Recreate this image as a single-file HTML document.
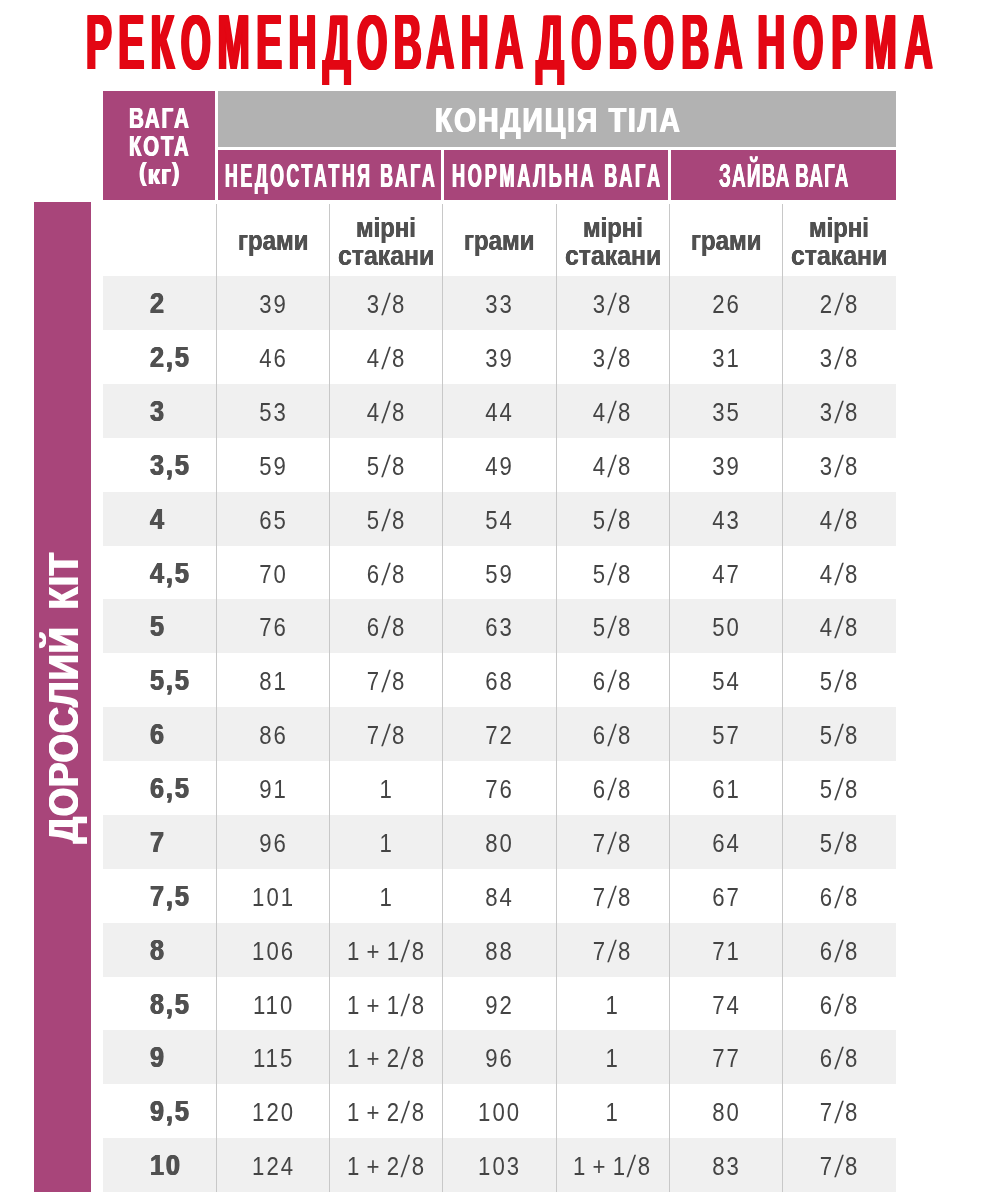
<!DOCTYPE html>
<html lang="uk"><head><meta charset="utf-8"><title>Рекомендована добова норма</title>
<style>

html,body{margin:0;padding:0;background:#fff;}
body{width:1000px;height:1200px;position:relative;overflow:hidden;font-family:"Liberation Sans",sans-serif;}
.b{position:absolute;}
.t{position:absolute;white-space:nowrap;line-height:1;transform-origin:0 0;font-weight:700;margin:0;}
.title{color:#e30613;}
.hw,.hk,.hs{color:#fff;}
.sh{color:#505050;}
.purple{background:#a8457a;}
.gray{background:#b2b2b2;}
.stripe{background:#f0f0f0;left:103px;width:793px;}
.vl{background:#c8c8c8;width:1px;top:204px;height:988px;}
.row{position:absolute;left:0;width:1000px;height:53.87px;}
.w{position:absolute;left:149.5px;top:0;white-space:nowrap;line-height:1;font-weight:700;font-size:29.3px;color:#505050;letter-spacing:2.2px;transform:scaleX(0.86);transform-origin:0 0;text-shadow:.7px 0 0 #505050,-.7px 0 0 #505050;}
.d i{font-style:normal;display:inline-block;transform:translateY(.9px) scaleY(1.16) skewX(-12deg);margin:0 1.55px;}
.pa{font-size:.9em;position:relative;top:-2.2px;}
.d{position:absolute;top:0;width:113.2px;text-align:center;white-space:nowrap;line-height:1;font-size:26.4px;color:#444;letter-spacing:2.4px;word-spacing:-3.5px;transform:scaleX(0.84);transform-origin:50% 0;}
.vt{position:absolute;white-space:nowrap;line-height:1;font-weight:700;color:#fff;transform-origin:0 0;}

</style></head><body>
<div class="b purple" style="left:103px;top:91px;width:112px;height:109px"></div>
<div class="b gray" style="left:218px;top:91px;width:678px;height:56px"></div>
<div class="b purple" style="left:218px;top:150px;width:223px;height:50px"></div>
<div class="b purple" style="left:444px;top:150px;width:224px;height:50px"></div>
<div class="b purple" style="left:671px;top:150px;width:225px;height:50px"></div>
<div class="b purple" style="left:34px;top:202px;width:57px;height:990px"></div>
<div class="b stripe" style="top:276px;height:54px"></div>
<div class="b stripe" style="top:384px;height:54px"></div>
<div class="b stripe" style="top:492px;height:54px"></div>
<div class="b stripe" style="top:599px;height:54px"></div>
<div class="b stripe" style="top:707px;height:54px"></div>
<div class="b stripe" style="top:815px;height:54px"></div>
<div class="b stripe" style="top:923px;height:54px"></div>
<div class="b stripe" style="top:1030px;height:54px"></div>
<div class="b stripe" style="top:1138px;height:54px"></div>
<div class="b vl" style="left:216px"></div>
<div class="b vl" style="left:329px"></div>
<div class="b vl" style="left:442px"></div>
<div class="b vl" style="left:556px"></div>
<div class="b vl" style="left:669px"></div>
<div class="b vl" style="left:782px"></div>
<h1 class="t title" style="left:85.84px;top:3.17px;font-size:78.6px;transform:scaleX(0.4924);text-shadow:1.32px 0 0 currentColor,-1.32px 0 0 currentColor,2.64px 0 0 currentColor,-2.64px 0 0 currentColor;letter-spacing:14px;word-spacing:-23.5px;"><span style="letter-spacing:13.25px">РЕКОМЕНДОВАНА</span> <span style="letter-spacing:14.9px;margin-left:1px">ДОБОВА</span> <span style="letter-spacing:16.2px;margin-left:2.6px">НОРМА</span></h1>
<div class="t hw" style="left:129.22px;top:103.19px;font-size:29.9px;transform:scaleX(0.6893);text-shadow:0.73px 0 0 currentColor,-0.73px 0 0 currentColor;letter-spacing:2.8px;">ВАГА</div>
<div class="t hw" style="left:129.24px;top:130.89px;font-size:29.9px;transform:scaleX(0.6802);text-shadow:0.74px 0 0 currentColor,-0.74px 0 0 currentColor;letter-spacing:2.8px;">КОТА</div>
<div class="t hw" style="left:139.22px;top:159.54px;font-size:28.3px;transform:scaleX(0.8842);text-shadow:0.57px 0 0 currentColor,-0.57px 0 0 currentColor;letter-spacing:1.0px;"><span class="pa">(</span>кг<span class="pa">)</span></div>
<div class="t hk" style="left:434.79px;top:102.65px;font-size:34.2px;transform:scaleX(0.8297);text-shadow:0.84px 0 0 currentColor,-0.84px 0 0 currentColor;letter-spacing:2.2px;">КОНДИЦІЯ ТІЛА</div>
<div class="t hs" style="left:224.81px;top:160.46px;font-size:32.3px;transform:scaleX(0.5447);text-shadow:0.92px 0 0 currentColor,-0.92px 0 0 currentColor;letter-spacing:5px;">НЕДОСТАТНЯ ВАГА</div>
<div class="t hs" style="left:452.38px;top:160.46px;font-size:32.3px;transform:scaleX(0.5604);text-shadow:0.89px 0 0 currentColor,-0.89px 0 0 currentColor;letter-spacing:5px;">НОРМАЛЬНА ВАГА</div>
<div class="t hs" style="left:718.70px;top:160.46px;font-size:32.3px;transform:scaleX(0.5870);text-shadow:0.51px 0 0 currentColor,-0.51px 0 0 currentColor;letter-spacing:2px;word-spacing:-3px;">ЗАЙВА ВАГА</div>
<div class="t sh" style="left:237.93px;top:227.02px;font-size:27.5px;transform:scaleX(0.8718);text-shadow:0.34px 0 0 currentColor,-0.34px 0 0 currentColor;">грами</div>
<div class="t sh" style="left:356.23px;top:214.32px;font-size:27.5px;transform:scaleX(0.8676);text-shadow:0.35px 0 0 currentColor,-0.35px 0 0 currentColor;">мірні</div>
<div class="t sh" style="left:338.20px;top:241.92px;font-size:27.5px;transform:scaleX(0.9024);text-shadow:0.33px 0 0 currentColor,-0.33px 0 0 currentColor;">стакани</div>
<div class="t sh" style="left:464.43px;top:227.02px;font-size:27.5px;transform:scaleX(0.8718);text-shadow:0.34px 0 0 currentColor,-0.34px 0 0 currentColor;">грами</div>
<div class="t sh" style="left:582.73px;top:214.32px;font-size:27.5px;transform:scaleX(0.8676);text-shadow:0.35px 0 0 currentColor,-0.35px 0 0 currentColor;">мірні</div>
<div class="t sh" style="left:564.70px;top:241.92px;font-size:27.5px;transform:scaleX(0.9024);text-shadow:0.33px 0 0 currentColor,-0.33px 0 0 currentColor;">стакани</div>
<div class="t sh" style="left:690.93px;top:227.02px;font-size:27.5px;transform:scaleX(0.8718);text-shadow:0.34px 0 0 currentColor,-0.34px 0 0 currentColor;">грами</div>
<div class="t sh" style="left:809.23px;top:214.32px;font-size:27.5px;transform:scaleX(0.8676);text-shadow:0.35px 0 0 currentColor,-0.35px 0 0 currentColor;">мірні</div>
<div class="t sh" style="left:791.20px;top:241.92px;font-size:27.5px;transform:scaleX(0.9024);text-shadow:0.33px 0 0 currentColor,-0.33px 0 0 currentColor;">стакани</div>
<div class="vt" style="left:42.58px;top:843.10px;font-size:42.2px;letter-spacing:1.0px;word-spacing:7.0px;transform:rotate(-90deg) scaleX(0.8634);text-shadow:1.04px 0 0 #fff,-1.04px 0 0 #fff;">ДОРОСЛИЙ КІТ</div>
<div class="row" style="top:276px"><span class="w" style="top:12.20px">2</span><span class="d" style="left:216.5px;top:14.80px">39</span><span class="d" style="left:329.7px;top:14.80px">3<i>/</i>8</span><span class="d" style="left:443.0px;top:14.80px">33</span><span class="d" style="left:556.3px;top:14.80px">3<i>/</i>8</span><span class="d" style="left:669.5px;top:14.80px">26</span><span class="d" style="left:782.8px;top:14.80px">2<i>/</i>8</span></div>
<div class="row" style="top:330px"><span class="w" style="top:12.20px">2,5</span><span class="d" style="left:216.5px;top:14.80px">46</span><span class="d" style="left:329.7px;top:14.80px">4<i>/</i>8</span><span class="d" style="left:443.0px;top:14.80px">39</span><span class="d" style="left:556.3px;top:14.80px">3<i>/</i>8</span><span class="d" style="left:669.5px;top:14.80px">31</span><span class="d" style="left:782.8px;top:14.80px">3<i>/</i>8</span></div>
<div class="row" style="top:384px"><span class="w" style="top:12.20px">3</span><span class="d" style="left:216.5px;top:14.80px">53</span><span class="d" style="left:329.7px;top:14.80px">4<i>/</i>8</span><span class="d" style="left:443.0px;top:14.80px">44</span><span class="d" style="left:556.3px;top:14.80px">4<i>/</i>8</span><span class="d" style="left:669.5px;top:14.80px">35</span><span class="d" style="left:782.8px;top:14.80px">3<i>/</i>8</span></div>
<div class="row" style="top:438px"><span class="w" style="top:12.20px">3,5</span><span class="d" style="left:216.5px;top:14.80px">59</span><span class="d" style="left:329.7px;top:14.80px">5<i>/</i>8</span><span class="d" style="left:443.0px;top:14.80px">49</span><span class="d" style="left:556.3px;top:14.80px">4<i>/</i>8</span><span class="d" style="left:669.5px;top:14.80px">39</span><span class="d" style="left:782.8px;top:14.80px">3<i>/</i>8</span></div>
<div class="row" style="top:492px"><span class="w" style="top:12.20px">4</span><span class="d" style="left:216.5px;top:14.80px">65</span><span class="d" style="left:329.7px;top:14.80px">5<i>/</i>8</span><span class="d" style="left:443.0px;top:14.80px">54</span><span class="d" style="left:556.3px;top:14.80px">5<i>/</i>8</span><span class="d" style="left:669.5px;top:14.80px">43</span><span class="d" style="left:782.8px;top:14.80px">4<i>/</i>8</span></div>
<div class="row" style="top:546px"><span class="w" style="top:12.20px">4,5</span><span class="d" style="left:216.5px;top:14.80px">70</span><span class="d" style="left:329.7px;top:14.80px">6<i>/</i>8</span><span class="d" style="left:443.0px;top:14.80px">59</span><span class="d" style="left:556.3px;top:14.80px">5<i>/</i>8</span><span class="d" style="left:669.5px;top:14.80px">47</span><span class="d" style="left:782.8px;top:14.80px">4<i>/</i>8</span></div>
<div class="row" style="top:599px"><span class="w" style="top:12.20px">5</span><span class="d" style="left:216.5px;top:14.80px">76</span><span class="d" style="left:329.7px;top:14.80px">6<i>/</i>8</span><span class="d" style="left:443.0px;top:14.80px">63</span><span class="d" style="left:556.3px;top:14.80px">5<i>/</i>8</span><span class="d" style="left:669.5px;top:14.80px">50</span><span class="d" style="left:782.8px;top:14.80px">4<i>/</i>8</span></div>
<div class="row" style="top:653px"><span class="w" style="top:12.20px">5,5</span><span class="d" style="left:216.5px;top:14.80px">81</span><span class="d" style="left:329.7px;top:14.80px">7<i>/</i>8</span><span class="d" style="left:443.0px;top:14.80px">68</span><span class="d" style="left:556.3px;top:14.80px">6<i>/</i>8</span><span class="d" style="left:669.5px;top:14.80px">54</span><span class="d" style="left:782.8px;top:14.80px">5<i>/</i>8</span></div>
<div class="row" style="top:707px"><span class="w" style="top:12.20px">6</span><span class="d" style="left:216.5px;top:14.80px">86</span><span class="d" style="left:329.7px;top:14.80px">7<i>/</i>8</span><span class="d" style="left:443.0px;top:14.80px">72</span><span class="d" style="left:556.3px;top:14.80px">6<i>/</i>8</span><span class="d" style="left:669.5px;top:14.80px">57</span><span class="d" style="left:782.8px;top:14.80px">5<i>/</i>8</span></div>
<div class="row" style="top:761px"><span class="w" style="top:12.20px">6,5</span><span class="d" style="left:216.5px;top:14.80px">91</span><span class="d" style="left:329.7px;top:14.80px">1</span><span class="d" style="left:443.0px;top:14.80px">76</span><span class="d" style="left:556.3px;top:14.80px">6<i>/</i>8</span><span class="d" style="left:669.5px;top:14.80px">61</span><span class="d" style="left:782.8px;top:14.80px">5<i>/</i>8</span></div>
<div class="row" style="top:815px"><span class="w" style="top:12.20px">7</span><span class="d" style="left:216.5px;top:14.80px">96</span><span class="d" style="left:329.7px;top:14.80px">1</span><span class="d" style="left:443.0px;top:14.80px">80</span><span class="d" style="left:556.3px;top:14.80px">7<i>/</i>8</span><span class="d" style="left:669.5px;top:14.80px">64</span><span class="d" style="left:782.8px;top:14.80px">5<i>/</i>8</span></div>
<div class="row" style="top:869px"><span class="w" style="top:12.20px">7,5</span><span class="d" style="left:216.5px;top:14.80px">101</span><span class="d" style="left:329.7px;top:14.80px">1</span><span class="d" style="left:443.0px;top:14.80px">84</span><span class="d" style="left:556.3px;top:14.80px">7<i>/</i>8</span><span class="d" style="left:669.5px;top:14.80px">67</span><span class="d" style="left:782.8px;top:14.80px">6<i>/</i>8</span></div>
<div class="row" style="top:923px"><span class="w" style="top:12.20px">8</span><span class="d" style="left:216.5px;top:14.80px">106</span><span class="d" style="left:329.7px;top:14.80px">1 + 1<i>/</i>8</span><span class="d" style="left:443.0px;top:14.80px">88</span><span class="d" style="left:556.3px;top:14.80px">7<i>/</i>8</span><span class="d" style="left:669.5px;top:14.80px">71</span><span class="d" style="left:782.8px;top:14.80px">6<i>/</i>8</span></div>
<div class="row" style="top:977px"><span class="w" style="top:12.20px">8,5</span><span class="d" style="left:216.5px;top:14.80px">110</span><span class="d" style="left:329.7px;top:14.80px">1 + 1<i>/</i>8</span><span class="d" style="left:443.0px;top:14.80px">92</span><span class="d" style="left:556.3px;top:14.80px">1</span><span class="d" style="left:669.5px;top:14.80px">74</span><span class="d" style="left:782.8px;top:14.80px">6<i>/</i>8</span></div>
<div class="row" style="top:1030px"><span class="w" style="top:12.20px">9</span><span class="d" style="left:216.5px;top:14.80px">115</span><span class="d" style="left:329.7px;top:14.80px">1 + 2<i>/</i>8</span><span class="d" style="left:443.0px;top:14.80px">96</span><span class="d" style="left:556.3px;top:14.80px">1</span><span class="d" style="left:669.5px;top:14.80px">77</span><span class="d" style="left:782.8px;top:14.80px">6<i>/</i>8</span></div>
<div class="row" style="top:1084px"><span class="w" style="top:12.20px">9,5</span><span class="d" style="left:216.5px;top:14.80px">120</span><span class="d" style="left:329.7px;top:14.80px">1 + 2<i>/</i>8</span><span class="d" style="left:443.0px;top:14.80px">100</span><span class="d" style="left:556.3px;top:14.80px">1</span><span class="d" style="left:669.5px;top:14.80px">80</span><span class="d" style="left:782.8px;top:14.80px">7<i>/</i>8</span></div>
<div class="row" style="top:1138px"><span class="w" style="top:12.20px">10</span><span class="d" style="left:216.5px;top:14.80px">124</span><span class="d" style="left:329.7px;top:14.80px">1 + 2<i>/</i>8</span><span class="d" style="left:443.0px;top:14.80px">103</span><span class="d" style="left:556.3px;top:14.80px">1 + 1<i>/</i>8</span><span class="d" style="left:669.5px;top:14.80px">83</span><span class="d" style="left:782.8px;top:14.80px">7<i>/</i>8</span></div>
</body></html>
